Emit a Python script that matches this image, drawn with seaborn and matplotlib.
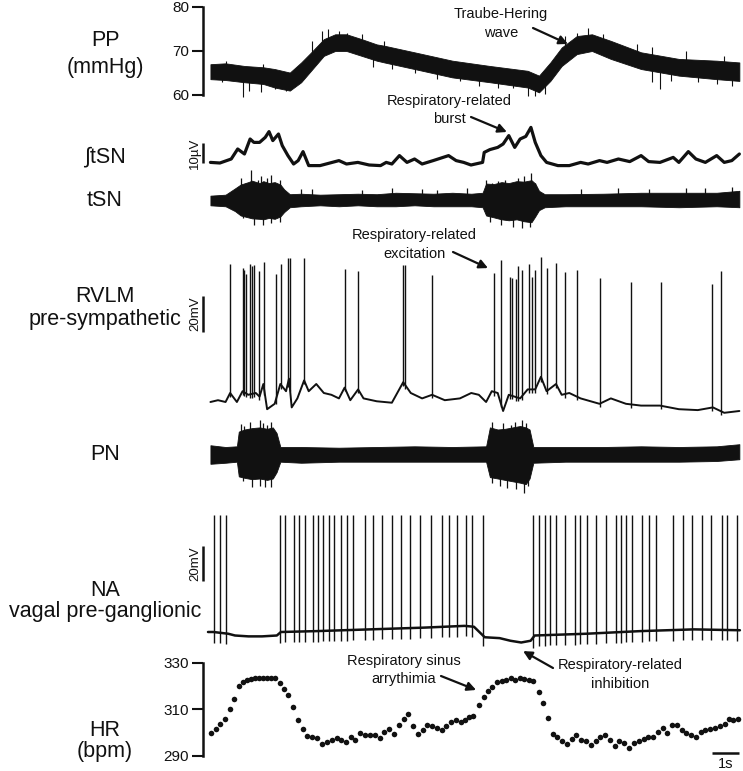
"""
Multi-channel recording figure: pressure, sympathetic and phrenic nerve
activity, RVLM / NA neurones and heart rate, sharing one time axis.
"""

import numpy as np
import matplotlib.pyplot as plt
import seaborn as sns

# ── values (time in s) ────────────────────────────────────────
# pulsatile pressure: envelope of the noisy trace (mmHg) + the larger spikes
pp_t    = [0.09, 0.65, 1.35, 2.05, 2.47, 3.03, 3.45, 3.87, 4.29, 4.71, 5.13, 5.69, 6.25, 6.53,
           7.65, 9.05, 10.44, 11.84, 12.26, 12.68, 13.10, 13.66, 14.22, 14.92, 16.04, 17.44,
           18.84, 19.68]
pp_high = [67.0, 67.2, 66.6, 66.3, 65.9, 65.1, 67.4, 70.0, 72.7, 73.8, 73.8, 72.7, 71.5, 71.2,
           69.7, 67.8, 66.6, 65.5, 64.4, 67.4, 70.8, 73.4, 73.8, 72.3, 69.7, 68.2, 67.8, 67.4]
pp_low  = [63.6, 63.4, 62.9, 62.5, 61.7, 61.0, 62.9, 65.9, 68.9, 70.0, 70.0, 68.9, 67.8, 67.4,
           65.9, 64.0, 62.9, 61.7, 60.6, 63.2, 66.6, 69.3, 70.0, 68.2, 65.9, 64.4, 63.6, 63.2]
pp_spike_t  = [0.51, 0.65, 1.28, 1.52, 1.98, 2.05, 2.47, 2.89, 3.87, 4.22, 4.43, 4.85, 5.13,
               5.69, 6.11, 6.53, 6.81, 7.65, 8.49, 9.33, 10.03, 10.73, 11.28, 11.84, 12.12,
               12.47, 13.24, 13.66, 14.08, 14.64, 15.90, 16.46, 16.46, 16.74, 17.16, 17.72,
               18.14, 18.84, 19.12, 19.40]
pp_spike_mm = [62.9, 67.8, 59.5, 61.0, 60.6, 67.0, 61.4, 61.0, 72.3, 74.6, 74.9, 74.6, 74.2,
               73.8, 66.3, 72.3, 65.9, 65.1, 63.6, 63.2, 62.1, 61.7, 61.6, 59.8, 59.8,
               60.2, 73.4, 74.2, 75.3, 73.8, 71.5, 70.8, 62.9, 61.4, 63.2, 70.0,
               62.9, 62.5, 68.9, 62.1]

# integrated thoracic sympathetic nerve (µV)
isn_t  = [0.09, 0.44, 0.86, 1.10, 1.35, 1.56, 1.70, 1.91, 2.12, 2.26, 2.40, 2.61, 2.75, 2.96,
          3.17, 3.34, 3.52, 3.73, 4.15, 4.85, 5.13, 5.55, 5.97, 6.39, 6.60, 6.81, 7.09, 7.37,
          7.65, 7.93, 8.34, 8.91, 9.19, 9.47, 9.74, 10.17, 10.23, 10.44, 10.73, 10.93, 11.14,
          11.36, 11.56, 11.77, 11.96, 12.12, 12.33, 12.54, 12.96, 13.38, 13.80, 14.08, 14.50,
          14.78, 15.20, 15.62, 16.04, 16.32, 16.74, 17.23, 17.44, 17.79, 18.07, 18.42, 18.84,
          19.12, 19.40, 19.68]
isn_uv = [0.3, 0, 2, 7, 4.5, 12, 10.3, 10.3, 12.8, 15.7, 11.2, 14.5, 8.7, 3.7,
          -0.5, 1.2, 5.7, -1.3, -1.3, 1.2, -0.5, 0.3, -1, -1.3, 0.3, -0.5, 3.7, 0.3,
          2, -0.5, 1.2, 3.7, 1.2, 0.3, -1, 0.3, 5.3, 6.7, 7.8, 9.5, 13.7,
          7.8, 12, 13.3, 17.8, 10.3, 3.7, 0.3, -1.3, -1.3, 0.3, -0.5, 1.2,
          0.3, 2, 0.7, 3.7, 0.7, 0.3, 2.8, 0.3, 5.7, 2, 0.3, 3.7,
          0.3, 1.2, 4.5]

# raw thoracic sympathetic nerve: dense body envelope + protruding spikes (a.u.)
tsn_t  = [0.09, 0.65, 1.00, 1.21, 1.49, 1.63, 1.91, 2.05, 2.26, 2.47, 2.68, 2.82, 3.03, 3.45,
          4.15, 4.85, 5.55, 6.25, 6.95, 7.65, 8.35, 9.05, 9.75, 10.17, 10.30, 10.59, 10.87,
          11.14, 11.43, 11.70, 11.98, 12.12, 12.26, 12.47, 13.24, 14.64, 16.04, 17.44, 18.84, 19.68]
tsn_hi = [0.9, 1.1, 2.4, 3.2, 3.7, 4.0, 3.5, 3.9, 3.5, 3.7, 3.2, 2.2, 1.2, 1.3,
          1.1, 1.2, 1.3, 1.2, 1.5, 1.4, 1.3, 1.5, 1.3, 1.5, 3.4, 3.3, 3.7,
          3.5, 3.9, 3.8, 4.1, 3.4, 1.9, 1.2, 1.2, 1.3, 1.5, 1.5, 1.5, 1.9]
tsn_lo = [-1.1, -1.3, -2.3, -3.2, -3.6, -3.8, -3.9, -4.0, -3.7, -3.9, -3.4, -2.5, -1.5, -1.3,
          -1.1, -1.3, -1.1, -1.3, -1.3, -1.1, -1.3, -1.3, -1.3, -1.5, -3.2, -3.6, -4.0,
          -4.2, -4.0, -4.4, -4.6, -3.4, -2.1, -1.5, -1.3, -1.3, -1.3, -1.5, -1.3, -1.5]
tsn_spike_t = [1.21, 1.28, 1.42, 1.60, 1.70, 1.84, 1.98, 2.05, 2.19, 2.33, 2.33, 2.47, 2.68,
               2.68, 3.45, 3.87, 5.69, 6.81, 7.93, 8.49, 9.60, 10.30, 10.44, 10.51, 10.73,
               10.86, 11.00, 11.28, 11.28, 11.49, 11.63, 11.70, 11.91, 11.98, 12.12, 13.80,
               15.20, 16.32, 17.72, 18.42, 19.40]
tsn_spike_u = [4.5, -3.8, 3.5, 6.2, -5.1, 4.2, 4.9, -5.1, 4.5, 5.2, -4.8, 3.5, 4.2,
               -4.5, 2.2, 2.2, 2.0, 2.4, 2.2, 2.0, 2.5, 4.2, -4.5, 3.5, 3.9,
               -5.1, 4.2, 3.2, -5.5, 4.5, -5.8, 4.9, -5.5, 5.5, 3.5, 2.2,
               2.4, 2.2, 2.5, 2.4, 2.7]

# RVLM pre-sympathetic neurone: membrane baseline and spikes (mV, relative)
rv_t  = [0.09, 0.37, 0.65, 0.82, 1.07, 1.28, 1.49, 1.77, 1.91, 2.05, 2.19, 2.47, 2.68, 2.89,
         3.00, 3.10, 3.31, 3.56, 3.73, 4.01, 4.29, 4.57, 4.85, 5.06, 5.27, 5.56, 5.76, 6.25,
         6.81, 7.23, 7.51, 7.93, 8.30, 8.77, 9.33, 9.75, 10.03, 10.30, 10.51, 10.73, 10.93,
         11.14, 11.56, 11.84, 12.12, 12.33, 12.54, 12.89, 13.10, 13.38, 13.80, 14.50, 14.92,
         15.48, 16.04, 16.74, 17.44, 18.14, 18.70, 19.12, 19.68]
rv_mv = [0, 1, 0, 5, 0, 6, 4, 5, 3, 10, -4, -1, 10, 6,
         13, -3, 2, 12, 6, 10, 5, 4, 2, 8, 1, 7, 2, 0.4,
         -0.4, 11, 5, 2, 4, 1, 2, 5, 4, 0, 6, 5, -5,
         4, 2, 7, 7, 14, 6, 10, 4, 5, 2, -1, 2,
         -1, -2, -2, -4, -4.5, -3, -6, -5]
rv_spike_t  = [0.82, 1.28, 1.35, 1.39, 1.56, 1.63, 1.70, 1.90, 2.09, 2.51, 2.71, 2.96, 3.03,
               3.56, 5.06, 5.56, 7.23, 7.30, 8.30, 10.61, 10.84, 11.17, 11.26, 11.40, 11.49,
               11.62, 11.89, 12.01, 12.12, 12.35, 12.57, 12.88, 13.22, 13.66, 14.53, 15.68,
               16.78, 18.67, 19.01]
rv_spike_mv = [76.7, 74.2, 73.2, 71.1, 76.7, 75.3, 76.3, 72.6, 77.9, 71.1, 76.7, 80.0, 80.0,
               80.0, 73.8, 72.6, 76.3, 76.3, 70.5, 71.8, 78.8, 69.7, 69.1, 68.5, 75.3,
               73.2, 76.7, 69.7, 73.2, 80.4, 74.2, 77.3, 72.2, 73.2, 69.1, 66.4,
               66.4, 65.4, 72.6]

# phrenic nerve: dense body envelope + protruding spikes (a.u.)
pn_t  = [0.09, 0.65, 1.07, 1.14, 1.35, 1.63, 1.91, 2.19, 2.40, 2.54, 2.68, 3.45, 4.85, 6.25,
         7.65, 9.05, 10.30, 10.44, 10.73, 11.00, 11.28, 11.56, 11.77, 11.91, 12.05, 13.24,
         14.64, 16.04, 17.44, 18.84, 19.68]
pn_hi = [1.25, 1.0, 1.1, 3.2, 3.5, 3.7, 3.8, 3.6, 3.8, 3.0, 1.0, 1.0, 0.9, 1.0,
         1.1, 1.0, 1.1, 3.8, 3.5, 3.6, 3.8, 4.0, 3.8, 3.5, 1.0, 1.0,
         1.0, 1.1, 1.0, 1.1, 1.4]
pn_lo = [-1.4, -1.25, -1.1, -3.2, -3.4, -3.6, -3.5, -3.7, -3.5, -2.6, -1.1, -1.25, -1.1, -1.1,
         -1.1, -1.1, -1.1, -3.3, -3.5, -3.7, -3.9, -4.1, -4.3, -3.5, -1.25, -1.1,
         -1.1, -1.1, -1.1, -1.0, -0.75]
pn_spike_t = [1.21, 1.28, 1.35, 1.56, 1.63, 1.91, 1.91, 2.05, 2.12, 2.19, 2.33, 2.33, 10.51,
              10.51, 10.80, 10.93, 11.07, 11.21, 11.36, 11.42, 11.63, 11.70, 11.77, 11.84]
pn_spike_u = [4.3, -3.8, 4.0, 4.6, -4.75, 4.8, -4.5, 4.4, -4.75, 4.2, 4.6, -4.75, 4.6,
              -4.2, -4.5, 4.4, -4.9, 4.2, 4.6, -5.0, 4.8, -5.5, 4.4, -4.6]

# NA vagal pre-ganglionic neurone (mV, relative)
na_t  = [0.0, 0.2, 0.75, 1.0, 1.5, 2.0, 2.55, 2.7, 4.0, 6.0, 8.0, 9.5, 9.85, 10.25, 10.8,
         11.2, 11.6, 11.95, 12.1, 14.0, 16.0, 18.0, 19.7]
na_mv = [0, 0, -1, -2, -2.5, -2.5, -2, 0, 0.5, 1.5, 2.5, 3.5, 3, -3, -3.5,
         -5, -6, -5, -2, -1, 0.5, 1.5, 1]
na_spike_t = [0.23, 0.44, 0.67, 2.67, 2.86, 3.17, 3.37, 3.58, 3.90, 4.09, 4.26, 4.47, 4.67,
              4.91, 5.14, 5.36, 5.80, 6.11, 6.44, 6.80, 7.14, 7.48, 7.86, 8.27, 8.67, 8.91,
              9.21, 9.54, 9.79, 10.17, 12.03, 12.27, 12.49, 12.67, 12.89, 13.23, 13.59,
              13.79, 14.04, 14.37, 14.73, 15.11, 15.30, 15.48, 15.70, 16.09, 16.34, 16.59,
              17.21, 17.60, 17.94, 18.30, 18.64, 19.03, 19.21, 19.58]
na_spike_peak = 67.0

# heart rate, beat by beat (bpm)
hr_t   = [0.10, 0.29, 0.44, 0.63, 0.80, 0.96, 1.14, 1.29, 1.43, 1.58, 1.74, 1.90, 2.05, 2.20,
          2.33, 2.48, 2.67, 2.83, 2.97, 3.16, 3.33, 3.51, 3.68, 3.86, 4.04, 4.22, 4.40, 4.58,
          4.77, 4.94, 5.11, 5.29, 5.46, 5.64, 5.83, 6.00, 6.19, 6.37, 6.53, 6.71, 6.90, 7.07,
          7.25, 7.42, 7.58, 7.78, 7.95, 8.12, 8.31, 8.48, 8.67, 8.81, 8.99, 9.17, 9.36, 9.52,
          9.68, 9.83, 10.04, 10.21, 10.36, 10.53, 10.70, 10.88, 11.04, 11.21, 11.37, 11.56,
          11.71, 11.90, 12.05, 12.26, 12.42, 12.58, 12.77, 12.94, 13.11, 13.29, 13.47, 13.63,
          13.81, 14.00, 14.17, 14.36, 14.53, 14.70, 14.89, 15.06, 15.23, 15.42, 15.60, 15.78,
          15.95, 16.14, 16.30, 16.47, 16.66, 16.84, 17.01, 17.17, 17.36, 17.54, 17.72, 17.90,
          18.07, 18.25, 18.42, 18.60, 18.78, 18.96, 19.14, 19.29, 19.46, 19.62]
hr_bpm = [299.8, 301.5, 303.7, 306.0, 310.0, 314.4, 320.0, 322.0, 322.8, 323.3, 323.6, 323.7,
          323.7, 323.7, 323.7, 323.7, 321.4, 318.8, 316.3, 310.9, 305.6, 301.7, 298.8, 298.3,
          297.6, 295.3, 296.0, 296.9, 297.7, 296.9, 296.1, 298.0, 296.9, 299.8, 298.9, 298.9,
          298.9, 297.6, 300.5, 301.7, 299.6, 303.3, 305.9, 308.2, 303.0, 299.5, 301.0, 303.3,
          302.7, 302.0, 301.2, 302.7, 304.6, 305.5, 304.6, 305.3, 306.9,
          307.4, 311.8, 315.3, 317.9, 319.8, 321.7, 322.4, 322.8, 323.4, 322.8, 323.6, 323.1,
          322.7, 322.4, 317.7, 312.6, 306.2, 299.3, 298.3, 296.6, 295.3, 297.3, 299.0, 296.9,
          296.4, 294.8, 296.6, 298.3, 298.9, 296.9, 294.2, 296.6, 295.4, 293.6, 295.4, 296.3,
          297.4, 298.3, 298.0, 300.2, 302.0, 299.8, 303.4, 303.3, 301.0, 299.8, 298.9, 298.3,
          300.4, 301.0, 301.5, 302.0, 303.0, 303.9, 305.9, 305.3, 305.9]

# ── layout (pixels of the 743 x 771 canvas) ──────────────────
W, H, DPI = 743, 771, 100
PX_PER_S  = 27.0
TRACE_X0  = 208
AX_LEFT, AX_RIGHT = 203, 743
INK = "#111111"

sns.set_theme(style="white")
plt.rcParams["font.family"] = ["Liberation Sans", "DejaVu Sans"]

fig = plt.figure(figsize=(W / DPI, H / DPI), dpi=DPI)
fig.patch.set_facecolor("white")
t_left  = (AX_LEFT - TRACE_X0) / PX_PER_S
t_right = (AX_RIGHT - TRACE_X0) / PX_PER_S


def panel(top, bottom, ylo, yhi):
    ax = fig.add_axes([AX_LEFT / W, 1 - bottom / H, (AX_RIGHT - AX_LEFT) / W, (bottom - top) / H])
    ax.set_xlim(t_left, t_right)
    ax.set_ylim(ylo, yhi)
    ax.set_axis_off()
    ax.patch.set_alpha(0)
    return ax


def bracket(ax, ticks):
    ax.set_axis_on()
    for side in ("top", "right", "bottom"):
        ax.spines[side].set_visible(False)
    ax.spines["left"].set_linewidth(1.8)
    ax.spines["left"].set_color(INK)
    ax.set_xticks([])
    ax.set_yticks(ticks)
    ax.tick_params(axis="y", left=True, direction="out", length=8, width=1.5,
                   color=INK, pad=2, labelsize=11, labelcolor=INK)
    ax.set_xlabel("")
    ax.set_ylabel("")


def vbar(ax, y0, y1, label):
    ax.plot([t_left, t_left], [y0, y1], color=INK, lw=1.8, clip_on=False, solid_capstyle="butt")
    ax.text(t_left - 0.08, (y0 + y1) / 2, label, rotation=90, ha="right", va="center",
            fontsize=9.5, color=INK)


def label(y, text):
    fig.text(105 / W, 1 - y / H, text, ha="center", va="center", fontsize=15.5, color=INK)


def note(x, y, text):
    fig.text(x / W, 1 - y / H, text, ha="center", va="center", fontsize=10.5, color=INK)


def arrow(ax, head, tail_px):
    ax.annotate("", xy=head, xycoords="data",
                xytext=(tail_px[0], H - tail_px[1]), textcoords="figure pixels",
                annotation_clip=False,
                arrowprops=dict(arrowstyle="-|>", color=INK, lw=1.6, mutation_scale=13,
                                shrinkA=0, shrinkB=0))


# ── 1. pulsatile pressure ────────────────────
ax_pp = panel(7, 95, 60, 80)
ax_pp.fill_between(pp_t, pp_low, pp_high, color=INK, lw=0.6, clip_on=False)
pp_mid = np.interp(pp_spike_t, pp_t, (np.array(pp_low) + np.array(pp_high)) / 2)
ax_pp.vlines(pp_spike_t, pp_mid, pp_spike_mm, color=INK, lw=0.8, clip_on=False)
bracket(ax_pp, [60, 70, 80])

# ── 2. integrated tSN ─────────────────────────
ax_isn = panel(143, 163, 0, 10)
sns.lineplot(x=isn_t, y=isn_uv, ax=ax_isn, color=INK, lw=2.3, sort=False,
             estimator=None, clip_on=False)
ax_isn.set_axis_off()
vbar(ax_isn, 0, 10, "10µV")

# ── 3. raw tSN ───────────────────────────────
ax_tsn = panel(171, 229, -6, 6)
ax_tsn.fill_between(tsn_t, tsn_lo, tsn_hi, color=INK, lw=0.6, clip_on=False)
ax_tsn.vlines(tsn_spike_t, 0, tsn_spike_u, color=INK, lw=0.9, clip_on=False)

# ── 4. RVLM neurone ──────────────────────────
ax_rv = panel(258, 402, 0, 80)
sns.lineplot(x=rv_t, y=rv_mv, ax=ax_rv, color=INK, lw=1.4, sort=False,
             estimator=None, clip_on=False)
rv_base = np.interp(rv_spike_t, rv_t, rv_mv)
ax_rv.vlines(rv_spike_t, rv_base - 2, rv_spike_mv, color=INK, lw=1.0, clip_on=False)
ax_rv.set_axis_off()
vbar(ax_rv, 39, 59, "20mV")

# ── 5. phrenic nerve ─────────────────────────
ax_pn = panel(412, 496, -6, 6)
ax_pn.fill_between(pn_t, pn_lo, pn_hi, color=INK, lw=0.6, clip_on=False)
ax_pn.vlines(pn_spike_t, 0, pn_spike_u, color=INK, lw=0.9, clip_on=False)

# ── 6. NA neurone ────────────────────────────
ax_na = panel(513, 632, 0, 68)
sns.lineplot(x=na_t, y=na_mv, ax=ax_na, color=INK, lw=1.8, sort=False,
             estimator=None, clip_on=False)
na_base = np.interp(na_spike_t, na_t, na_mv)
ax_na.vlines(na_spike_t, na_base - 6, na_spike_peak, color=INK, lw=1.0, clip_on=False)
ax_na.set_axis_off()
vbar(ax_na, 29, 49, "20mV")

# ── 7. heart rate ────────────────────────────
ax_hr = panel(663, 756, 290, 330)
sns.scatterplot(x=hr_t, y=hr_bpm, ax=ax_hr, s=16, color=INK, linewidth=0, clip_on=False)
bracket(ax_hr, [290, 310, 330])
ax_hr.plot([18.67, 19.67], [291.5, 291.5], color=INK, lw=1.8, clip_on=False,
           solid_capstyle="butt")
ax_hr.text(19.17, 289.6, "1s", ha="center", va="top", fontsize=10.5, color=INK)

# ── channel labels ───────────────────────────
label(41, "PP")
label(67, "(mmHg)")
label(157, "∫tSN")
label(201, "tSN")
label(297, "RVLM")
label(319, "pre-sympathetic")
label(454, "PN")
label(590, "NA")
label(612, "vagal pre-ganglionic")
label(731, "HR")
label(752, "(bpm)")

# ── annotations ──────────────────────────────
note(501, 14, "Traube-Hering")
note(501, 33, "wave")
arrow(ax_pp, (13.33, 71.6), (533, 28))

note(449, 101, "Respiratory-related")
note(449, 119, "burst")
arrow(ax_isn, (11.07, 15.5), (471, 117))

note(414, 235, "Respiratory-related")
note(414, 254, "excitation")
arrow(ax_rv, (10.37, 74.4), (453, 252))

note(404, 661, "Respiratory sinus")
note(404, 679, "arrythimia")
arrow(ax_hr, (9.93, 318.4), (441, 676))

note(620, 665, "Respiratory-related")
note(620, 684, "inhibition")
arrow(ax_na, (11.67, -10.9), (553, 668))

fig.savefig("out.png", dpi=DPI, facecolor="white")
plt.close(fig)
